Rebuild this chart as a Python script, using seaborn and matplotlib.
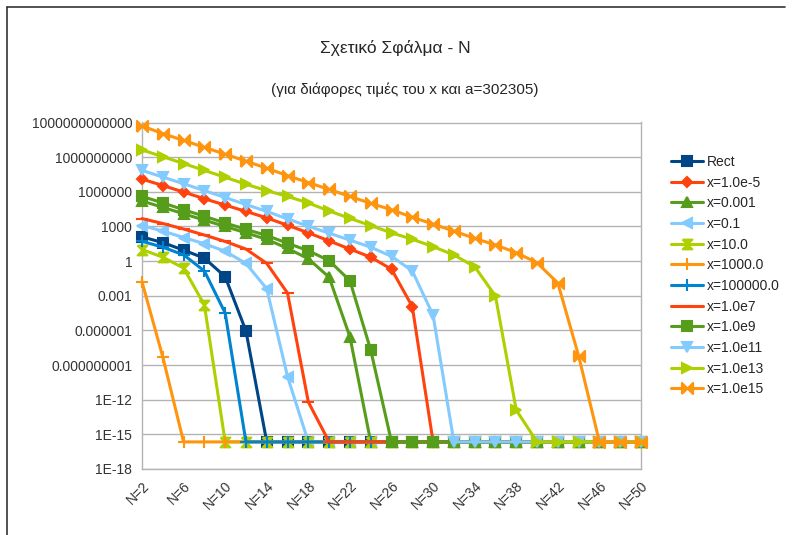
import matplotlib
matplotlib.use('Agg')
import matplotlib.pyplot as plt
import seaborn as sns
import pandas as pd
from matplotlib.lines import Line2D

# data (relative error vs N)
N = list(range(2, 51, 2))
EPS = 2.22e-16  # floor where the error bottoms out

rect    = [126, 40, 8.9, 1.8, 0.045, 8.9e-7]
x_1e_5  = [1.26e7, 3.5e6, 9.5e5, 2.5e5, 7.1e4, 2.0e4, 5.5e3, 1.26e3, 2.8e2, 56, 11, 2.2, 0.2, 1.15e-4]
x_0001  = [1.6e5, 4.5e4, 1.26e4, 3.5e3, 1.0e3, 2.8e2, 76, 12.6, 1.6, 0.04, 2.8e-7]
x_01    = [1.2e3, 4.0e2, 1.1e2, 32, 7.1, 0.63, 4.0e-3, 1.0e-10]
x_10    = [10, 2.2, 0.25, 1.6e-4]
x_1000  = [0.016, 5e-9]
x_1e5   = [52, 16, 3.5, 0.14, 3.2e-5]
x_1e7   = [4.8e3, 1.8e3, 6.0e2, 1.8e2, 50, 11, 0.63, 1.7e-3, 6.3e-13]
x_1e9   = [4.0e5, 1.1e5, 2.8e4, 7.6e3, 2.0e3, 5.6e2, 1.66e2, 35, 7.9, 1.1, 0.02, 2.0e-8]
x_1e11  = [7.1e7, 1.9e7, 5.0e6, 1.26e6, 3.2e5, 7.9e4, 2.0e4, 4.5e3, 1.05e3, 2.6e2, 66, 16, 2.6, 0.14, 2.1e-5]
x_1e13  = [4.2e9, 1.1e9, 2.8e8, 7.1e7, 1.8e7, 4.5e6, 1.26e6, 4.0e5, 1.07e5, 2.2e4, 5.0e3, 1.2e3, 2.8e2,
           78, 18, 3.4, 0.33, 9.5e-4, 1.26e-13]
x_1e15  = [5.0e11, 1.1e11, 2.8e10, 7.1e9, 1.8e9, 4.5e8, 1.1e8, 2.5e7, 6.3e6, 1.6e6, 4.0e5, 1.0e5, 2.8e4,
           6.3e3, 1.6e3, 4.0e2, 93, 25, 5.4, 0.72, 0.0126, 6.3e-9]

labels = ['Rect', 'x=1.0e-5', 'x=0.001', 'x=0.1', 'x=10.0', 'x=1000.0', 'x=100000.0',
          'x=1.0e7', 'x=1.0e9', 'x=1.0e11', 'x=1.0e13', 'x=1.0e15']
series = [rect, x_1e_5, x_0001, x_01, x_10, x_1000, x_1e5, x_1e7, x_1e9, x_1e11, x_1e13, x_1e15]

ytick_vals = [1e-18, 1e-15, 1e-12, 1e-9, 1e-6, 1e-3, 1, 1e3, 1e6, 1e9, 1e12]
ytick_labels = ['1E-18', '1E-15', '1E-12', '0.000000001', '0.000001', '0.001', '1',
                '1000', '1000000', '1000000000', '1000000000000']

# styles
hourglass = [(-1, 1), (1, 1), (-1, -1), (1, -1), (-1, 1)]
bowtie = [(-1, -1), (-1, 1), (1, -1), (1, 1), (-1, -1)]
colors = ['#004586', '#ff420e', '#579d1c', '#83caff', '#aecf00', '#ff950e', '#0084d1',
          '#ff420e', '#579d1c', '#83caff', '#aecf00', '#ff950e']
markers = ['s', 'D', '^', '<', hourglass, '+', '+', '_', 's', 'v', '>', bowtie]
msizes = [7, 5.5, 7, 7, 7, 8, 8, 8, 7, 7, 7, 8]

# long table, padded with the floor value
rows = []
for lab, vals in zip(labels, series):
    full = vals + [EPS] * (len(N) - len(vals))
    for n, v in zip(N, full):
        rows.append({'N': n, 'err': v, 'series': lab})
df = pd.DataFrame(rows)

sns.set_style('white')
plt.rcParams['font.family'] = ['Liberation Sans', 'DejaVu Sans']

fig = plt.figure(figsize=(7.92, 5.35), dpi=100)
ax = fig.add_axes([142 / 792, 1 - 469 / 535, (641 - 142) / 792, (469 - 122.5) / 535])

for lab, c, m, ms in zip(labels, colors, markers, msizes):
    sub = df[df['series'] == lab]
    sns.lineplot(data=sub, x='N', y='err', ax=ax, color=c, marker=m, markersize=ms,
                 markeredgecolor=c, markeredgewidth=1.5, linewidth=2.2, label=lab,
                 clip_on=False, zorder=3)

ax.set_yscale('log')
ax.set_ylim(1e-18, 1e12)
ax.set_yticks(ytick_vals)
ax.set_yticklabels(ytick_labels, fontsize=10, color='#333333')
ax.minorticks_off()
ax.set_xlim(2, 50)
ax.set_xticks(N)
ax.set_xticklabels([f'N={n}' if i % 2 == 0 else '' for i, n in enumerate(N)],
                   rotation=45, ha='right', rotation_mode='anchor', fontsize=10, color='#333333')
ax.tick_params(axis='both', length=4, color='#b3b3b3', width=1, pad=3)
ax.set_xlabel('')
ax.set_ylabel('')
ax.grid(axis='y', color='#b3b3b3', linewidth=1)
ax.grid(axis='x', visible=False)
for s in ax.spines.values():
    s.set_color('#b3b3b3')
    s.set_linewidth(1)
ax.set_axisbelow(True)

# legend on the right, no frame
handles = [Line2D([], [], color=c, marker=m, markersize=ms, markeredgecolor=c,
                  markeredgewidth=1.5, linewidth=2.2)
           for c, m, ms in zip(colors, markers, msizes)]
ax.legend(handles, labels, loc='upper left', bbox_to_anchor=(664 / 792, 1 - 148 / 535),
          bbox_transform=fig.transFigure, frameon=False, fontsize=10,
          labelspacing=0.48, handlelength=2.3, handletextpad=0.3, borderpad=0)

fig.text(395 / 792, 1 - 48 / 535, 'Σχετικό Σφάλμα - N', ha='center', va='center', fontsize=12.5)
fig.text(405 / 792, 1 - 90 / 535, '(για διάφορες τιμές του x και a=302305)',
         ha='center', va='center', fontsize=11)

# outer frame lines (top and left)
fig.add_artist(Line2D([7 / 792, 7 / 792], [0, 1 - 7 / 535], color='#333333', linewidth=1.2,
                      transform=fig.transFigure))
fig.add_artist(Line2D([7 / 792, 785 / 792], [1 - 7 / 535, 1 - 7 / 535], color='#333333',
                      linewidth=1.2, transform=fig.transFigure))

fig.savefig('out.png', dpi=100)
